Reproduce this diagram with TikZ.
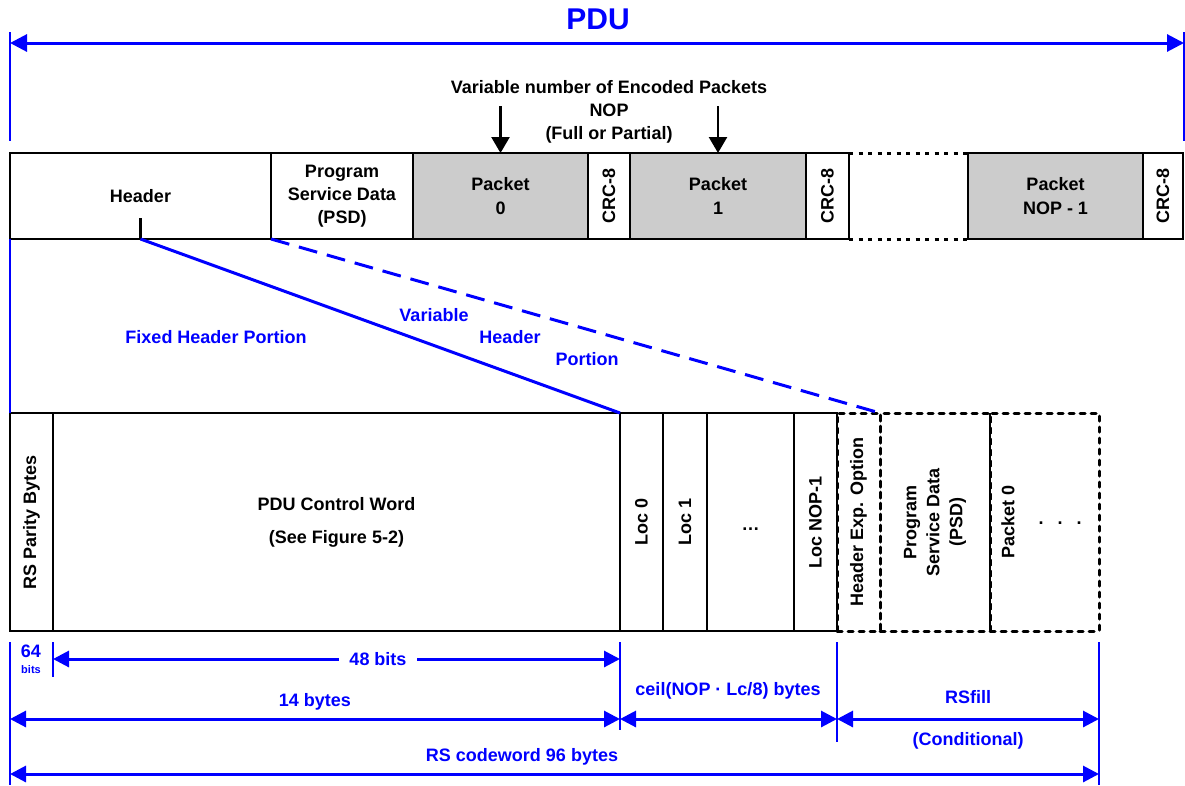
\documentclass[tikz,border=0pt]{standalone}
\usepackage{fontspec}
\setmainfont{Liberation Sans}
\usetikzlibrary{arrows.meta}
\definecolor{pblue}{RGB}{0,0,255}
\definecolor{pgrey}{RGB}{204,204,204}
\begin{document}
\begin{tikzpicture}[x=1pt,y=-1pt,
  every node/.style={font=\fontsize{18}{23}\selectfont\bfseries, inner sep=0pt, outer sep=0pt},
  tbox/.style={draw=black, line width=2.3pt, minimum height=86pt},
  bbox/.style={draw=black, line width=2.3pt, minimum height=218pt},
  grey/.style={fill=pgrey},
  dbox/.style={draw=black, line width=3pt, dash pattern=on 5pt off 6pt, line cap=round, minimum height=218pt},
  dotline/.style={draw=black, line width=3pt, dash pattern=on 4pt off 5.5pt},
  rot/.style={rotate=90},
  blab/.style={text=pblue},
  vline/.style={draw=pblue, line width=2pt},
  dimarr/.style={draw=pblue, line width=3pt, {Triangle[length=16pt,width=16pt]}-{Triangle[length=16pt,width=16pt]}},
  downarr/.style={draw=black, line width=2.5pt, -{Triangle[length=16pt,width=18pt]}},
  diag/.style={draw=pblue, line width=3pt}
]
\useasboundingbox (0,0) rectangle (1185,785);

% ---------- PDU ----------
\node[blab, font=\fontsize{30}{30}\selectfont\bfseries] (pdu) at (598,19) {PDU};
\coordinate (pduL) at (10,43);
\coordinate (pduR) at (1184,43);
\coordinate (pduLt) at (10,32);
\coordinate (pduLb) at (10,141);
\coordinate (pduRt) at (1184,32);
\coordinate (pduRb) at (1184,141);
\draw[vline] (pduLt) -- (pduLb);
\draw[vline, line width=1.5pt] (pduRt) -- (pduRb);
\draw[dimarr, {Triangle[length=17pt,width=17pt]}-{Triangle[length=17pt,width=17pt]}] (pduL) -- (pduR);

% ---------- top row ----------
\node[tbox, minimum width=261pt] (hdr) at (140.5,196) {Header};
\node[tbox, minimum width=142pt, align=center] (psd) at (342,196) {Program\\Service Data\\(PSD)};
\node[tbox, grey, minimum width=175pt, align=center, font=\fontsize{18}{24}\selectfont\bfseries] (p0) at (500.5,196) {Packet\\0};
\node[tbox, minimum width=42pt] (c0) at (609,196) {};
\node[tbox, grey, minimum width=176pt, align=center, font=\fontsize{18}{24}\selectfont\bfseries] (p1) at (718,196) {Packet\\1};
\node[tbox, minimum width=43pt] (c1) at (827.5,196) {};
\node[tbox, grey, minimum width=175pt, align=center, font=\fontsize{18}{24}\selectfont\bfseries] (pn) at (1055.5,196) {Packet\\NOP - 1};
\node[tbox, minimum width=40pt] (cn) at (1163,196) {};
\node[rot] (c0t) at (c0) {CRC-8};
\node[rot] (c1t) at (c1) {CRC-8};
\node[rot] (cnt) at (cn) {CRC-8};
\draw[dotline] (c1.north east) -- (pn.north west);
\draw[dotline] (c1.south east) -- (pn.south west);

% variable number text
\node[align=center] (varnum) at (609,112) {Variable number of Encoded Packets\\NOP\\(Full or Partial)};
\coordinate (a0s) at (500.5,106);
\coordinate (a1s) at (718,106);
\draw[downarr] (a0s) -- (p0.north);
\draw[downarr] (a1s) -- (p1.north);

% header tick
\coordinate (htick) at (140.5,218);
\draw[draw=black, line width=2.3pt] (htick) -- (hdr.south);

% ---------- bottom row ----------
\node[bbox, minimum width=43pt] (rsp) at (31.5,522) {};
\node[rot] (rspt) at (rsp) {RS Parity Bytes};
\node[bbox, minimum width=567pt, align=center, font=\fontsize{18}{33}\selectfont\bfseries] (pcw) at (336.5,522) {PDU Control Word\\(See Figure 5-2)};
\node[bbox, minimum width=43pt] (l0) at (641.5,522) {};
\node[rot] (l0t) at (l0) {Loc 0};
\node[bbox, minimum width=44pt] (l1) at (685,522) {};
\node[rot] (l1t) at (l1) {Loc 1};
\node[bbox, minimum width=87pt] (ld) at (750.5,522) {};
\node (ldt) at (750.5,529) {…};
\node[bbox, minimum width=43pt] (ln) at (815.5,522) {};
\node[rot] (lnt) at (ln) {Loc NOP-1};
\node[dbox, minimum width=110pt] (ps2) at (935,522) {};
\node[dbox, minimum width=109pt] (pk) at (1044.5,522) {};
\node[dbox, minimum width=43pt] (hx) at (858.5,522) {};
\draw[draw=black, line width=2.3pt] (pk.north west) -- (pk.south west);
\node[rot] (hxt) at (hx) {Header Exp. Option};
\node[rot, align=center] (ps2t) at (ps2) {Program\\Service Data\\(PSD)};
\node[rot] (pkt) at (1008,522) {Packet 0};
\node (pkdots) at (1060,523) {.\hspace{14pt}.\hspace{14pt}.};

% ---------- connectors between rows ----------
\coordinate (lvt) at (10,239);
\draw[vline] (lvt) -- (rsp.north west);
\draw[diag] (hdr.south) -- (pcw.north east);
\draw[diag, dash pattern=on 19pt off 10pt] (psd.south west) -- (hx.north east);
\node[blab] (fhp) at (216,337) {Fixed Header Portion};
\node[blab] (vhp1) at (434,315) {Variable};
\node[blab] (vhp2) at (510,337) {Header};
\node[blab] (vhp3) at (587,359) {Portion};

% ---------- bottom dimensions ----------
\coordinate (v10t) at (10,642);  \coordinate (v10b) at (10,785);
\coordinate (v53t) at (53,642);  \coordinate (v53b) at (53,677);
\coordinate (v620t) at (620,642); \coordinate (v620b) at (620,730);
\coordinate (v837t) at (837,642); \coordinate (v837b) at (837,742);
\coordinate (v1099t) at (1099,642); \coordinate (v1099b) at (1099,785);
\draw[vline] (v10t) -- (v10b);
\draw[vline] (v53t) -- (v53b);
\draw[vline] (v620t) -- (v620b);
\draw[vline] (v837t) -- (v837b);
\draw[vline] (v1099t) -- (v1099b);

\node[blab] (n64) at (31,651) {64};
\node[blab, font=\fontsize{11}{11}\selectfont\bfseries] (nbits) at (31,670) {bits};

\coordinate (d48a) at (53,659); \coordinate (d48b) at (620,659);
\draw[dimarr] (d48a) -- (d48b);
\node[blab, fill=white, inner xsep=10pt, inner ysep=2pt] (l48) at (378,659) {48 bits};

\coordinate (d14a) at (10,719); \coordinate (d14b) at (620,719);
\draw[dimarr] (d14a) -- (d14b);
\node[blab] (l14) at (315,702) {14 bytes};

\coordinate (dca) at (620,719); \coordinate (dcb) at (837,719);
\draw[dimarr] (dca) -- (dcb);
\node[blab] (lc) at (728,691) {ceil(NOP · Lc/8) bytes};

\coordinate (dra) at (837,719); \coordinate (drb) at (1099,719);
\draw[dimarr] (dra) -- (drb);
\node[blab] (lrs) at (968,697) {RSfill};
\node[blab] (lcond) at (968,741) {(Conditional)};

\coordinate (dwa) at (10,774); \coordinate (dwb) at (1099,774);
\draw[dimarr] (dwa) -- (dwb);
\node[blab] (lcw) at (522,757) {RS codeword 96 bytes};
\end{tikzpicture}
\end{document}
